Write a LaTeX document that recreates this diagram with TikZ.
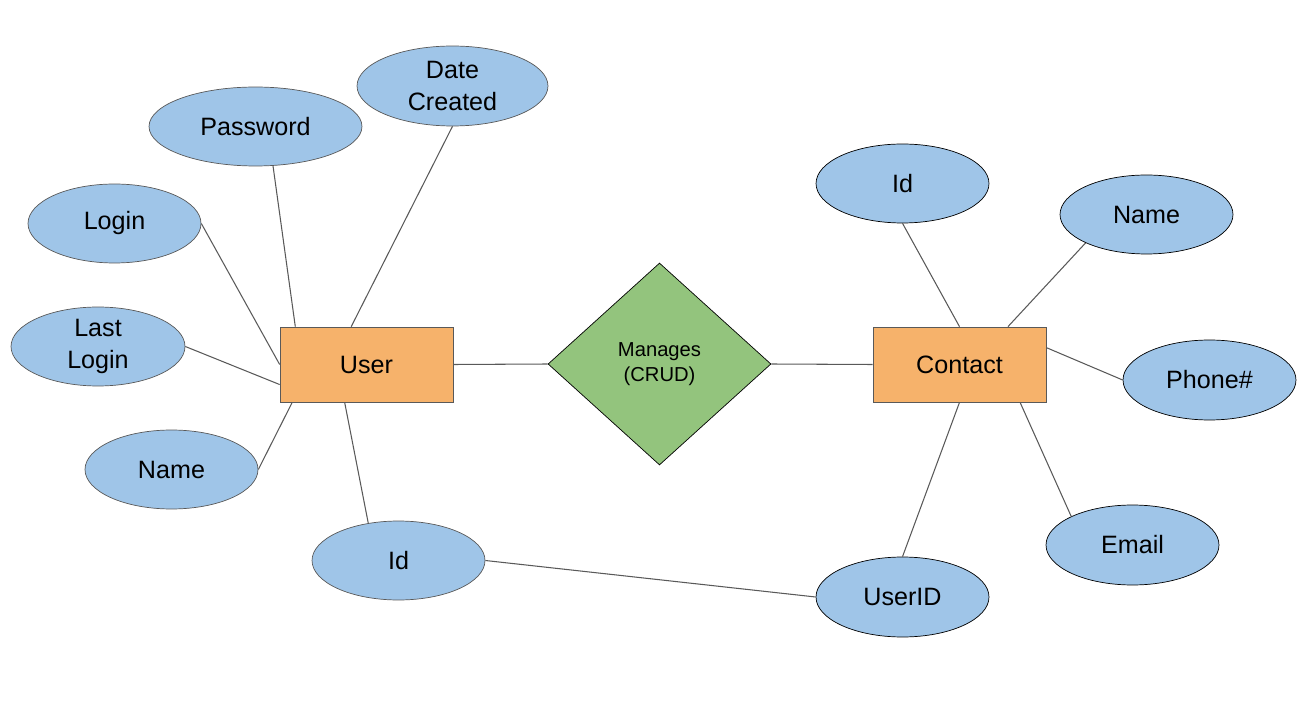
\documentclass[tikz,border=0pt]{standalone}
\usepackage{fontspec}
\setmainfont{Liberation Sans}
\usetikzlibrary{shapes.geometric}
\definecolor{entfill}{HTML}{F6B26B}
\definecolor{relfill}{HTML}{93C47D}
\definecolor{attfill}{HTML}{9FC5E8}
\definecolor{edgegray}{HTML}{595959}
\tikzset{
    entity/.style={draw=edgegray, fill=entfill, minimum width=3.46cm, minimum height=1.5cm, inner sep=0pt, font=\fontsize{14.3}{18}\selectfont},
    attr/.style={ellipse, draw=edgegray, fill=attfill, minimum width=3.46cm, minimum height=1.58cm, inner sep=0pt, align=center, font=\fontsize{14.3}{18}\selectfont},
    battr/.style={attr, draw=black},
    rel/.style={diamond, draw=black, fill=relfill, minimum width=4.46cm, minimum height=4.04cm, inner sep=0pt, align=center, font=\fontsize{11.5}{14}\selectfont},
    link/.style={draw=edgegray, line width=0.6pt}
}

\begin{document}
\begin{tikzpicture}[x=0.02cm, y=-0.02cm]
            \useasboundingbox (0,0) rectangle (1297,712);
            % entities and relation
            \node[entity] (user) at (366.5,364.5) {User};
            \node[entity] (contact) at (959.5,364.5) {Contact};
            \node[rel] (manages) at (659.5,364) {Manages\\(CRUD)};
            % user attributes
            \node[attr, minimum width=4.26cm] (password) at (255.5,126.5) {Password};
            \node[attr, minimum width=3.82cm, minimum height=1.6cm] (datecreated) at (452.5,86) {Date\\Created};
            \node[attr] (login) at (114.5,223.5) {Login};
            \node[attr, minimum width=3.48cm] (lastlogin) at (98,346.5) {Last\\Login};
            \node[attr] (uname) at (171.5,469.5) {Name};
            \node[attr] (uid) at (398.5,560.5) {Id};
            % contact attributes
            \node[battr] (cid) at (902.5,183.5) {Id};
            \node[battr] (cname) at (1146.5,214.5) {Name};
            \node[battr, minimum height=1.6cm] (phone) at (1209.5,380) {Phone\#};
            \node[battr, minimum height=1.6cm] (email) at (1132.5,545) {Email};
            \node[battr, minimum height=1.6cm] (userid) at (902.5,597) {UserID};
            % connectors
            \draw[link] (user.east) -- (manages.west);
            \draw[link] (manages.east) -- (contact.west);
            \draw[link] (user.152) -- (password.-66);
            \draw[link] (user.112) -- (datecreated.south);
            \draw[link] (user.west) -- (login.east);
            \draw[link] (user.193) -- (lastlogin.east);
            \draw[link] (user.207) -- (uname.east);
            \draw[link] (user.240) -- (uid.129);
            \draw[link] (contact.north) -- (cid.south);
            \draw[link] (contact.38) -- (cname.205);
            \draw[link] (contact.11) -- (phone.west);
            \draw[link] (contact.328) -- (email.155);
            \draw[link] (contact.south) -- (userid.north);
            \draw[link] (uid.east) -- (userid.west);
        \end{tikzpicture}
\end{document}
